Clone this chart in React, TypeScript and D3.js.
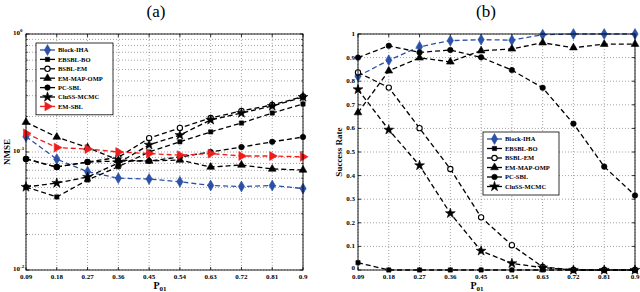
import React, { useEffect, useRef } from 'react';
import * as d3 from 'd3';

// x values shared by both panels
const p01 = [0.09, 0.18, 0.27, 0.36, 0.45, 0.54, 0.63, 0.72, 0.81, 0.9];

// (a) NMSE
const blockIhaNmse = [0.135, 0.087, 0.068, 0.06, 0.059, 0.056, 0.052, 0.051, 0.052, 0.049];
const ebsblBoNmse = [0.0505, 0.0416, 0.0579, 0.075, 0.1, 0.122, 0.148, 0.176, 0.214, 0.255];
const bsblEmNmse = [0.0873, 0.0746, 0.0822, 0.09, 0.131, 0.16, 0.194, 0.223, 0.25, 0.295];
const emMapOmpNmse = [0.179, 0.134, 0.109, 0.0855, 0.0839, 0.0855, 0.0746, 0.0776, 0.0718, 0.0704];
const pcSblNmse = [0.0873, 0.0746, 0.0822, 0.0839, 0.0839, 0.0907, 0.1, 0.11, 0.122, 0.134];
const clussNmse = [0.0505, 0.0546, 0.0614, 0.0807, 0.115, 0.139, 0.187, 0.214, 0.245, 0.292];
const emSblNmse = [0.144, 0.109, 0.106, 0.1, 0.097, 0.094, 0.097, 0.0925, 0.0925, 0.091];

// (b) success rate
const blockIhaSr = [0.821, 0.889, 0.946, 0.972, 0.976, 0.974, 0.997, 1, 1, 1];
const ebsblBoSr = [0.031, 0, 0, 0, 0, 0, 0, 0, 0, 0];
const bsblEmSr = [0.837, 0.773, 0.601, 0.428, 0.223, 0.105, 0.013, 0, 0, 0];
const emMapOmpSr = [0.667, 0.844, 0.899, 0.882, 0.929, 0.937, 0.963, 0.942, 0.957, 0.957];
const pcSblSr = [0.9, 0.95, 0.922, 0.932, 0.901, 0.847, 0.772, 0.62, 0.438, 0.316];
const clussSr = [0.765, 0.594, 0.443, 0.24, 0.081, 0.028, 0.01, 0, 0, 0];

const srTicks = [0, 0.1, 0.2, 0.3, 0.4, 0.5, 0.6, 0.7, 0.8, 0.9, 1];

const BLUE = '#2b50a8';
const RED = '#f01c1c';
const FONT = '"Liberation Serif", "DejaVu Serif", serif';

type Style = { name: string; color: string; marker: string; open?: boolean };

const styles: Style[] = [
    { name: 'Block-IHA', color: BLUE, marker: 'diamond' },
    { name: 'EBSBL-BO', color: '#000', marker: 'square' },
    { name: 'BSBL-EM', color: '#000', marker: 'circle', open: true },
    { name: 'EM-MAP-OMP', color: '#000', marker: 'triangle' },
    { name: 'PC-SBL', color: '#000', marker: 'dot' },
    { name: 'CluSS-MCMC', color: '#000', marker: 'star' },
    { name: 'EM-SBL', color: RED, marker: 'right' },
];

const nmseSeries = [blockIhaNmse, ebsblBoNmse, bsblEmNmse, emMapOmpNmse, pcSblNmse, clussNmse, emSblNmse];
const srSeries = [blockIhaSr, ebsblBoSr, bsblEmSr, emMapOmpSr, pcSblSr, clussSr];

const drawMarker = (g: any, s: Style, x: number, y: number) => {
    const types: any = {
        diamond: [d3.symbolDiamond, 34],
        square: [d3.symbolSquare, 18],
        circle: [d3.symbolCircle, 22],
        triangle: [d3.symbolTriangle, 26],
        dot: [d3.symbolCircle, 24],
        star: [d3.symbolStar, 30],
        right: [d3.symbolTriangle, 34],
    };
    const [type, size] = types[s.marker];
    g.append('path')
        .attr('d', d3.symbol().type(type).size(size)())
        .attr('transform', `translate(${x},${y})` + (s.marker === 'right' ? ' rotate(90)' : ''))
        .attr('fill', s.open ? '#fff' : s.color)
        .attr('stroke', s.color)
        .attr('stroke-width', s.open ? 1.1 : 0.6);
};

const drawPanel = (svg: any, cfg: any) => {
    const { left, right, top, bottom, yScale, yTicks, minorTicks, series, title, titleX, labelX, yLabel, yLabelX, legend } = cfg;
    const x = d3.scaleLinear().domain([0.09, 0.9]).range([left, right]);
    const g = svg.append('g');

    // grid
    [...yTicks, ...minorTicks].forEach((t: number) => {
        g.append('line')
            .attr('x1', left).attr('x2', right)
            .attr('y1', yScale(t)).attr('y2', yScale(t))
            .attr('stroke', '#666').attr('stroke-width', 0.6).attr('stroke-dasharray', '1,2');
    });
    p01.forEach(t => {
        g.append('line')
            .attr('x1', x(t)).attr('x2', x(t))
            .attr('y1', top).attr('y2', bottom)
            .attr('stroke', '#666').attr('stroke-width', 0.6).attr('stroke-dasharray', '1,2');
    });

    // ticks inside
    p01.forEach(t => {
        g.append('line').attr('x1', x(t)).attr('x2', x(t)).attr('y1', bottom).attr('y2', bottom - 3).attr('stroke', '#000').attr('stroke-width', 0.8);
        g.append('line').attr('x1', x(t)).attr('x2', x(t)).attr('y1', top).attr('y2', top + 3).attr('stroke', '#000').attr('stroke-width', 0.8);
    });
    yTicks.forEach((t: number) => {
        g.append('line').attr('x1', left).attr('x2', left + 3).attr('y1', yScale(t)).attr('y2', yScale(t)).attr('stroke', '#000').attr('stroke-width', 0.8);
        g.append('line').attr('x1', right).attr('x2', right - 3).attr('y1', yScale(t)).attr('y2', yScale(t)).attr('stroke', '#000').attr('stroke-width', 0.8);
    });
    minorTicks.forEach((t: number) => {
        g.append('line').attr('x1', left).attr('x2', left + 2).attr('y1', yScale(t)).attr('y2', yScale(t)).attr('stroke', '#000').attr('stroke-width', 0.6);
        g.append('line').attr('x1', right).attr('x2', right - 2).attr('y1', yScale(t)).attr('y2', yScale(t)).attr('stroke', '#000').attr('stroke-width', 0.6);
    });

    // x tick labels
    p01.forEach(t => {
        g.append('text')
            .attr('x', x(t)).attr('y', bottom + 8.5)
            .attr('text-anchor', 'middle')
            .style('font-size', '7px').style('font-weight', 'bold').style('font-family', FONT)
            .text(String(t));
    });
    cfg.yLabels(g);

    // lines
    const line = d3.line<number>().x((d, i) => x(p01[i])).y(d => yScale(d));
    series.forEach((vals: number[], k: number) => {
        const s = styles[k];
        g.append('path')
            .attr('d', line(vals))
            .attr('fill', 'none')
            .attr('stroke', s.color)
            .attr('stroke-width', 1.3)
            .attr('stroke-dasharray', '5,3');
        vals.forEach((v, i) => drawMarker(g, s, x(p01[i]), yScale(v)));
    });

    // box
    g.append('rect')
        .attr('x', left).attr('y', top).attr('width', right - left).attr('height', bottom - top)
        .attr('fill', 'none').attr('stroke', '#000').attr('stroke-width', 0.9);

    // legend
    const n = series.length;
    const lg = g.append('g');
    lg.append('rect')
        .attr('x', legend.x).attr('y', legend.y).attr('width', legend.w).attr('height', n * legend.row + 6)
        .attr('fill', '#fff').attr('stroke', '#000').attr('stroke-width', 0.8);
    for (let k = 0; k < n; k++) {
        const s = styles[k];
        const yy = legend.y + 7 + k * legend.row;
        lg.append('line')
            .attr('x1', legend.x + 4).attr('x2', legend.x + 19)
            .attr('y1', yy).attr('y2', yy)
            .attr('stroke', s.color).attr('stroke-width', 1.3);
        drawMarker(lg, s, legend.x + 11.5, yy);
        lg.append('text')
            .attr('x', legend.x + 22).attr('y', yy + 2.3)
            .style('font-size', '6.5px').style('font-weight', 'bold').style('font-family', FONT)
            .text(s.name);
    }

    // titles
    g.append('text')
        .attr('x', titleX).attr('y', 17)
        .attr('text-anchor', 'middle')
        .style('font-size', '17px').style('font-family', FONT)
        .text(title);
    const xl = g.append('text')
        .attr('x', labelX).attr('y', 288.5)
        .attr('text-anchor', 'middle')
        .style('font-size', '10px').style('font-weight', 'bold').style('font-family', FONT);
    xl.append('tspan').text('P');
    xl.append('tspan').attr('dy', 2).style('font-size', '7px').text('01');
    g.append('text')
        .attr('transform', `translate(${yLabelX},${(top + bottom) / 2}) rotate(-90)`)
        .attr('text-anchor', 'middle')
        .style('font-size', '9px').style('font-weight', 'bold').style('font-family', FONT)
        .text(yLabel);
};

const App = () => {
    const svgRef = useRef<SVGSVGElement>(null);

    useEffect(() => {
        const svg = d3.select(svgRef.current);
        svg.selectAll('*').remove();

        // (a)
        const yLog = d3.scaleLog().domain([0.01, 1]).range([270, 34]);
        const decades = [0.01, 0.1, 1];
        const minors: number[] = [];
        [0.01, 0.1].forEach(d => { for (let m = 2; m <= 9; m++) minors.push(d * m); });
        drawPanel(svg, {
            left: 26, right: 303, top: 34, bottom: 270,
            yScale: yLog, yTicks: decades, minorTicks: minors,
            series: nmseSeries, title: '(a)', titleX: 156, labelX: 160,
            yLabel: 'NMSE', yLabelX: 10,
            legend: { x: 36, y: 43, w: 77, row: 9.4 },
            yLabels: (g: any) => {
                decades.forEach(t => {
                    const tx = g.append('text')
                        .attr('x', 13).attr('y', yLog(t) + 1)
                        .style('font-size', '7px').style('font-weight', 'bold').style('font-family', FONT);
                    tx.append('tspan').text('10');
                    tx.append('tspan').attr('dy', -3).style('font-size', '5px').text(String(Math.round(Math.log10(t))));
                });
            },
        });

        // (b)
        const yLin = d3.scaleLinear().domain([0, 1]).range([270, 34]);
        drawPanel(svg, {
            left: 358, right: 635, top: 34, bottom: 270,
            yScale: yLin, yTicks: srTicks, minorTicks: [],
            series: srSeries, title: '(b)', titleX: 486, labelX: 477,
            yLabel: 'Success Rate', yLabelX: 342,
            legend: { x: 483, y: 132, w: 76, row: 9.5 },
            yLabels: (g: any) => {
                srTicks.forEach(t => {
                    g.append('text')
                        .attr('x', 355).attr('y', t === 0 ? yLin(t) - 0.5 : yLin(t) + 2)
                        .attr('text-anchor', 'end')
                        .style('font-size', '7px').style('font-weight', 'bold').style('font-family', FONT)
                        .text(String(t));
                });
            },
        });
    }, []);

    return (
        <svg ref={svgRef} width={640} height={292}
            style={{ position: 'absolute', left: 0, top: 0, background: '#fff' }}></svg>
    );
};

export default App;
